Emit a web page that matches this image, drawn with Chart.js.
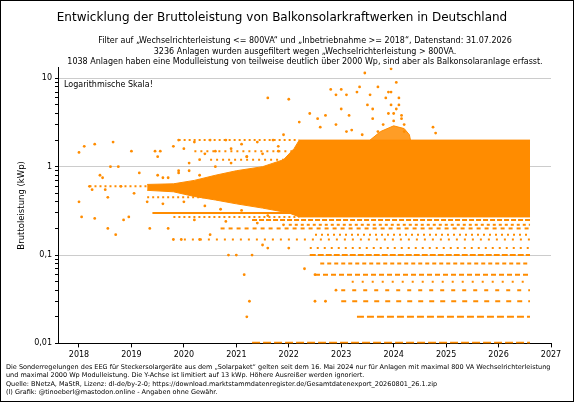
<!DOCTYPE html>
<html>
<head>
<meta charset="utf-8">
<script src="https://cdn.jsdelivr.net/npm/chart.js@4/dist/chart.umd.min.js"></script>
<style>
  body{margin:0;background:#fff;font-family:"DejaVu Sans",sans-serif}
  #wrap{position:relative;width:572px;height:400px;border:1px solid #000}
  #note{position:absolute;left:5px;top:362px;font-size:6.5px;line-height:8.3px;color:#000;white-space:nowrap}
</style>
</head>
<body>
<div id="wrap">
  <canvas id="c" width="572" height="400"></canvas>
  <div id="note">Die Sonderregelungen des EEG für Steckersolargeräte aus dem „Solarpaket“ gelten seit dem 16. Mai 2024 nur für Anlagen mit maximal 800 VA Wechselrichterleistung<br>und maximal 2000 Wp Modulleistung. Die Y-Achse ist limitiert auf 13 kWp. Höhere Ausreißer werden ignoriert.<br>Quelle: BNetzA, MaStR, Lizenz: dl-de/by-2-0; https://download.marktstammdatenregister.de/Gesamtdatenexport_20260801_26.1.zip<br>(l) Grafik: @tinoeberl@mastodon.online - Angaben ohne Gewähr.</div>
</div>
<script>
const ORANGE = '#ff8c00';

const subtitleLines = ['Filter auf „Wechselrichterleistung <= 800VA“ und „Inbetriebnahme >= 2018“, Datenstand: 31.07.2026',
  '3236 Anlagen wurden ausgefiltert wegen „Wechselrichterleistung > 800VA.',
  '1038 Anlagen haben eine Modulleistung von teilweise deutlich über 2000 Wp, sind aber als Balkonsolaranlage erfasst.'];

// dense main cloud, upper and lower edge (year, kWp)
const coreUpper = [[2019.3,0.63],[2019.8,0.64],[2020.2,0.7],[2020.6,0.8],[2021.0,0.9],[2021.5,1.0],[2021.9,1.2],[2022.1,1.6],[2022.2,2.0],[2026.6,2.0]];
const coreLower = [[2019.3,0.54],[2019.8,0.52],[2020.2,0.46],[2020.6,0.42],[2021.0,0.38],[2021.5,0.34],[2022.0,0.3],[2022.2,0.27],[2026.6,0.27]];
// cluster above 2 kWp in 2023/2024
const clusterUpper = [[2023.55,2.0],[2023.75,2.5],[2024.0,2.9],[2024.2,2.7],[2024.3,2.3],[2024.32,2.0]];
const clusterLower = [[2023.55,2.0],[2024.32,2.0]];

// rows of repeated values: [kWp, from, to, dash]
const rows = [
  [2.0, 2019.9, 2022.2, [2,3]],
  [1.5, 2020.2, 2022.2, [2,4]],
  [1.2, 2020.5, 2022.2, [2,4]],
  [0.6, 2018.2, 2019.3, [2,3]],
  [0.45, 2019.3, 2020.4, [2,3]],
  [0.3, 2019.4, 2022.2, []],
  [0.27, 2019.8, 2022.2, [2,3]],
  [0.25, 2021.3, 2026.6, [5,2]],
  [0.22, 2022.0, 2026.6, [3,3]],
  [0.2, 2020.7, 2026.6, [4,4]],
  [0.17, 2022.5, 2026.6, [2,4]],
  [0.15, 2020.0, 2026.6, [2,6]],
  [0.12, 2022.4, 2026.6, [2,5]],
  [0.1, 2022.4, 2026.6, [6,2]],
  [0.08, 2022.6, 2026.6, [4,3]],
  [0.06, 2022.5, 2026.6, [5,3]],
  [0.05, 2023.2, 2026.6, [2,8]],
  [0.04, 2023.0, 2026.6, [4,7]],
  [0.03, 2023.0, 2026.6, [5,6]],
  [0.02, 2023.3, 2026.6, [7,3]],
  [0.0102, 2021.3, 2026.6, [8,3]]
];

// sparse single installations
const scatterX = [2018.0,2018.0,2018.1,2018.05,2018.2,2018.25,2018.3,2018.3,2018.4,2018.45,2018.5,2018.55,2018.55,2018.6,2018.65,2018.7,2018.75,2018.8,2018.85,2018.95,2019.0,2019.05,2019.15,2019.3,2019.35,2019.45,2019.5,2019.55,2019.6,2019.7,
  2019.8,2019.9,2020.0,2020.2,2020.3,2020.5,2020.6,2019.8,2019.95,2020.3,2020.5,2020.85,2021.3,2021.5,2021.0,2021.15,2021.25,2021.2,2022.3,2022.5,2022.7,2022.9,2022.5,2021.6,2022.0,
  2021.6,2022.0,2022.4,2022.55,2022.6,2022.8,2022.9,2023.0,2023.1,2023.15,2023.0,2023.3,2023.35,2023.5,2023.55,2023.6,2023.7,2023.85,2023.9,2023.95,2024.0,2024.05,2024.1,2024.15,2024.2,2023.45,2023.95,2023.95,2024.05,2024.1,2023.8,2023.7,2024.2,2023.2,2022.9,2022.7,2022.2,2021.9,2024.75,2024.8,2023.9,2024.0,2024.15,2023.6,2023.1,2023.4,
  2020.8,2021.1,2021.4,2021.7,2020.4,2020.9,2021.2,2021.8,2019.9,2020.1,
  2019.5,2019.7,2019.9,2020.1,2020.3,2020.6,2020.9,2021.2,2021.5,2021.8,2019.6,2020.0,2020.4,2020.7,2021.1,2021.6,2020.2,2020.8,2021.4,2021.9];
const scatterY = [1.45,0.4,1.7,0.27,0.6,0.55,1.8,0.26,0.8,0.75,0.55,0.45,0.2,1.0,1.9,0.17,1.0,0.6,0.25,0.27,1.5,0.5,0.85,0.4,0.2,1.5,1.3,1.5,0.75,0.2,
  1.7,2.0,1.6,1.9,1.2,2.0,1.5,0.15,0.15,0.15,0.17,0.1,0.1,0.13,0.1,0.06,0.03,0.02,0.07,0.03,0.03,0.04,0.06,0.12,0.12,
  6,5.8,4,3.5,2.8,7.5,6.5,7.5,6.5,3.8,4.5,7,8,5,6.5,3.5,8,6,7,5,4,4.5,6,3.5,3,11.5,12.8,7,9,5,3,2.5,2.5,2.6,3,3.8,3.2,2.3,2.8,2.4,4,3.3,3.8,4.5,2.5,2.3,
  2.0,1.8,1.9,2.0,1.4,1.6,1.3,1.7,0.9,1.1,
  0.8,0.75,0.85,0.9,0.8,1.0,1.1,1.3,1.4,1.5,0.38,0.4,0.36,0.33,0.32,0.28,0.25,0.24,0.23,0.22];

const yTicks = [0.01, 0.1, 1, 10];
const yLabels = ['0,01', '0,1', '1', '10'];

function pts(a){ return a.map(p => ({x:p[0], y:p[1]})); }

const datasets = [
  {type:'line', data:pts(coreLower), borderColor:ORANGE, borderWidth:1, pointRadius:0, fill:false},
  {type:'line', data:pts(coreUpper), borderColor:ORANGE, borderWidth:1, pointRadius:0, fill:'-1', backgroundColor:ORANGE},
  {type:'line', data:pts(clusterLower), borderColor:ORANGE, borderWidth:0, pointRadius:0, fill:false},
  {type:'line', data:pts(clusterUpper), borderColor:ORANGE, borderWidth:1, pointRadius:0, fill:'-1', backgroundColor:'rgba(255,140,0,0.85)'}
];
rows.forEach(r => datasets.push({
  type:'line', data:[{x:r[1], y:r[0]}, {x:r[2], y:r[0]}],
  borderColor:ORANGE, borderWidth:2, borderDash:r[3], pointRadius:0, fill:false
}));
datasets.push({
  type:'scatter', data:scatterX.map((x,i)=>({x, y:scatterY[i]})),
  backgroundColor:ORANGE, borderWidth:0, pointRadius:1.4
});

const extraText = {
  id:'extraText',
  afterDraw(chart){
    const {ctx, chartArea} = chart;
    ctx.save();
    ctx.font = '8px "DejaVu Sans"';
    ctx.fillStyle = '#000';
    ctx.textBaseline = 'top';
    ctx.fillText('Logarithmische Skala!', chartArea.left + 6, chartArea.top + 14);
    ctx.textAlign = 'center';
    subtitleLines.forEach((t,i) => ctx.fillText(t, 304, 36 + i*10.5));
    ctx.restore();
  }
};

new Chart(document.getElementById('c'), {
  type:'scatter',
  data:{datasets},
  options:{
    responsive:false,
    animation:false,
    layout:{padding:{left:12, right:22, top:0, bottom:38}},
    plugins:{
      legend:{display:false},
      tooltip:{enabled:false},
      title:{display:true, text:'Entwicklung der Bruttoleistung von Balkonsolarkraftwerken in Deutschland',
        color:'#000', font:{family:'DejaVu Sans', size:12, weight:'normal'}, padding:{top:10, bottom:42}}
    },
    scales:{
      x:{type:'linear', min:2017.6, max:2027,
        afterBuildTicks(s){ s.ticks = [2018,2019,2020,2021,2022,2023,2024,2025,2026,2027].map(v=>({value:v})); },
        ticks:{color:'#000', font:{family:'DejaVu Sans', size:8}, callback:v=>String(v)},
        grid:{display:true, drawOnChartArea:false, color:'#000', tickLength:4},
        border:{color:'#000'}},
      y:{type:'logarithmic', min:0.01, max:13.3,
        afterBuildTicks(s){
          const t = [];
          for(const d of [0.01,0.1,1,10]) for(let k=1;k<10;k++){ const v=d*k; if(v<=13.3) t.push({value:v}); }
          s.ticks = t;
        },
        ticks:{color:'#000', font:{family:'DejaVu Sans', size:8}, autoSkip:false,
          callback:v=>{ const i = yTicks.findIndex(t=>Math.abs(t-v)/t<1e-6); return i>=0 ? yLabels[i] : ''; }},
        title:{display:true, text:'Bruttoleistung (kWp)', color:'#000', font:{family:'DejaVu Sans', size:8.5}},
        grid:{color:c=>yTicks.some(t=>Math.abs(t-c.tick.value)/t<1e-6)?'#ccc':'rgba(0,0,0,0)',
          tickColor:'#000', tickLength:3, borderDash:[2,2]},
        border:{color:'#000'}}
    }
  },
  plugins:[extraText]
});
</script>
</body>
</html>
